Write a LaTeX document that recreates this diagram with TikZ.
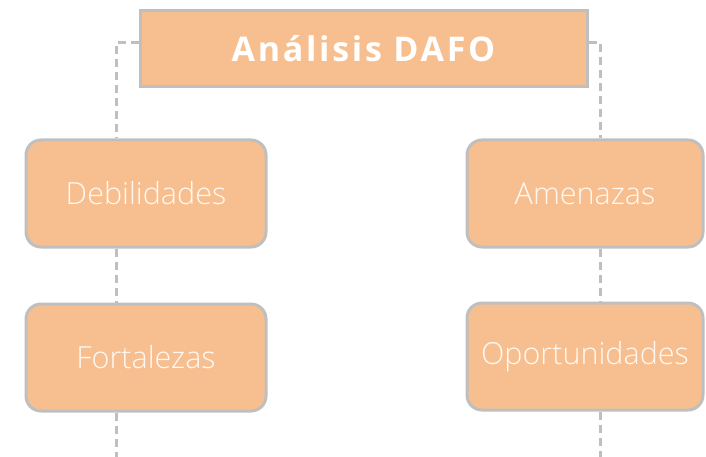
\documentclass[tikz,border=0pt]{standalone}
\usepackage{fontspec}
\setmainfont{Open Sans}
\newfontfamily\titlefont[LetterSpace=8]{Open Sans Bold}
\newfontfamily\lightfont{Open Sans Light}
\definecolor{boxfill}{HTML}{F7BF8F}
\definecolor{edge}{HTML}{BFBFBF}
\definecolor{txt}{HTML}{FFF8F2}
\begin{document}
\begin{tikzpicture}[x=1pt,y=-1pt,
  titlebox/.style={draw=edge,line width=3pt,fill=boxfill,minimum width=447pt,minimum height=76pt,inner sep=0pt,text=white,font=\titlefont\fontsize{34}{38}\selectfont},
  itembox/.style={draw=edge,line width=3pt,fill=boxfill,rounded corners=15pt,minimum height=107pt,inner sep=0pt,text=txt,font=\lightfont\fontsize{30.5}{35}\selectfont},
  link/.style={draw=edge,line width=3pt,dash pattern=on 8pt off 5pt}]
\useasboundingbox (0,0) rectangle (706,457);
\coordinate (lt) at (116,43);
\coordinate (rt) at (600,43);
\coordinate (lb) at (116,457);
\coordinate (rb) at (600,457);
\node[titlebox] (title) at (363.5,49) {Análisis DAFO};
\node[itembox,minimum width=240pt] (deb) at (146,193.5) {Debilidades};
\node[itembox,minimum width=240pt] (fort) at (146,357.5) {Fortalezas};
\node[itembox,minimum width=236pt] (amen) at (585,193.5) {Amenazas};
\node[itembox,minimum width=236pt] (oport) at (585,356.5) {Oportunidades};
\draw[link] (title.west |- lt) -- (lt) -- (lt |- deb.north);
\draw[link] (lt |- deb.south) -- (lt |- fort.north);
\draw[link] (lt |- fort.south) -- (lb);
\draw[link] (title.east |- rt) -- (rt) -- (rt |- amen.north);
\draw[link] (rt |- amen.south) -- (rt |- oport.north);
\draw[link] (rt |- oport.south) -- (rb);
\end{tikzpicture}
\end{document}
